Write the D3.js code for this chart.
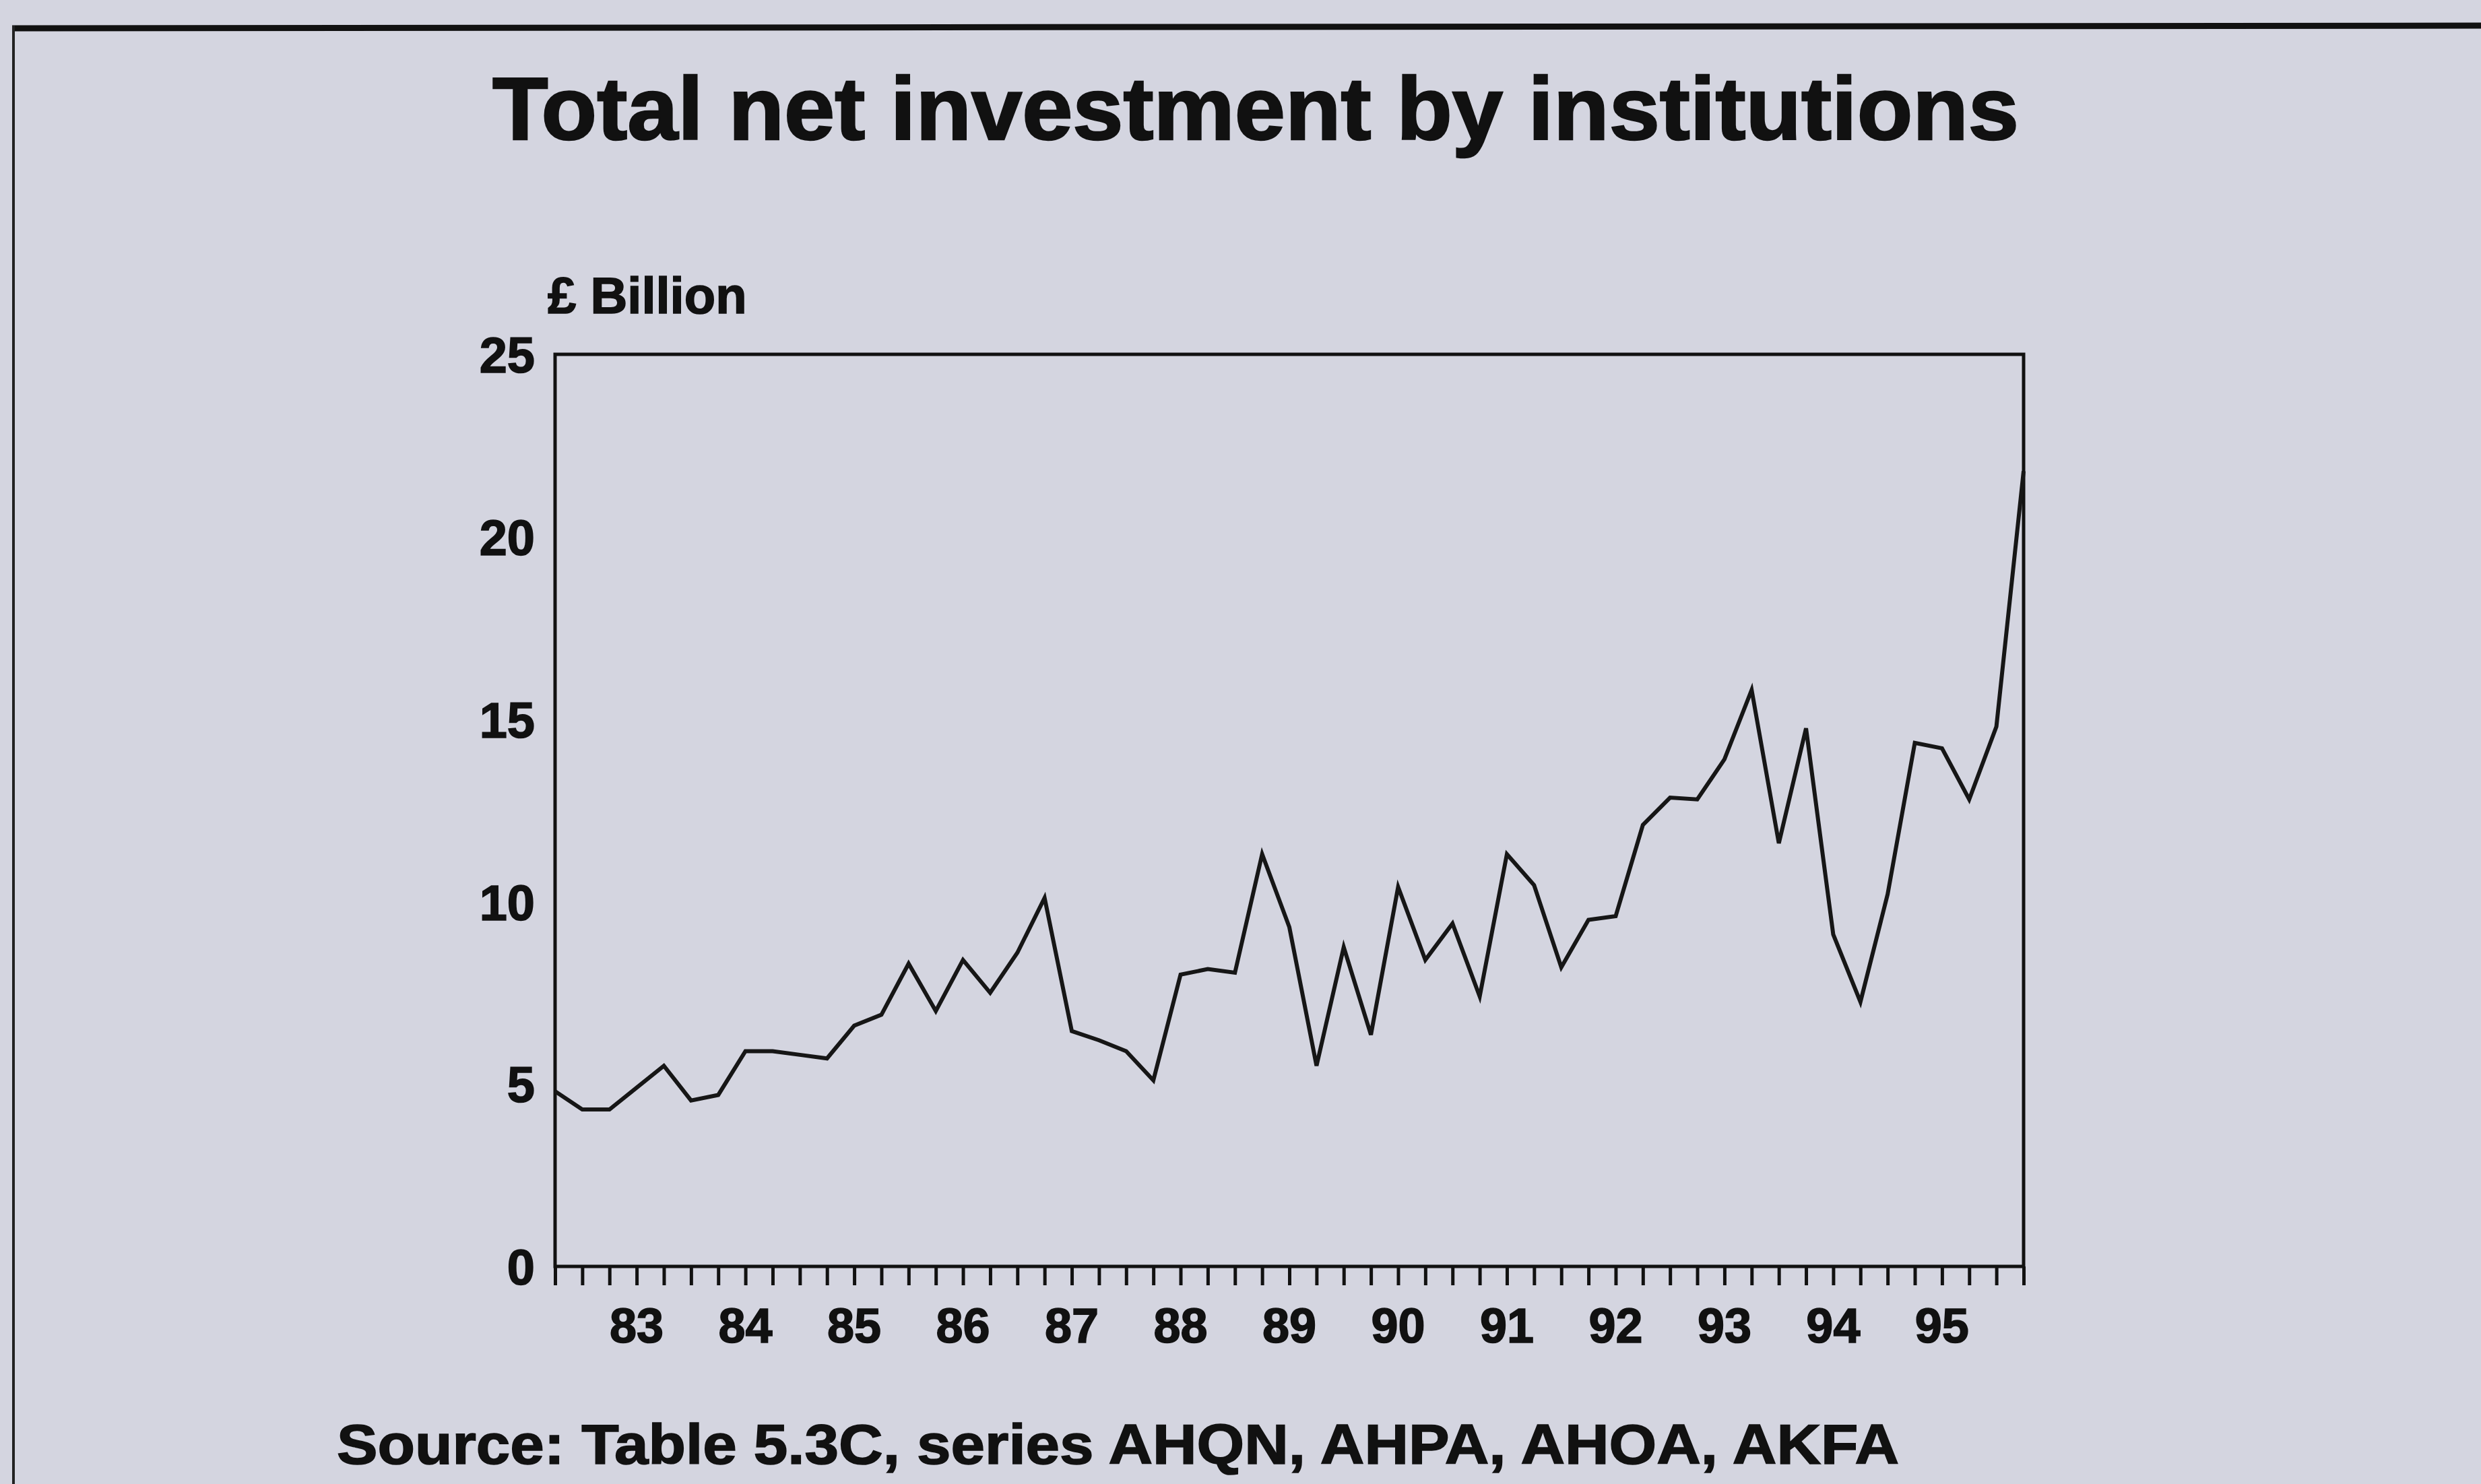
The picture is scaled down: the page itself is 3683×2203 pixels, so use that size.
<!DOCTYPE html>
<html>
<head>
<meta charset="utf-8">
<script src="https://cdn.jsdelivr.net/npm/d3@7"></script>
<style>
  html, body { margin: 0; padding: 0; background: #d4d5e0; }
  svg { display: block; }
  text { font-family: "Liberation Sans", Arial, Helvetica, sans-serif; font-weight: bold; fill: #111; stroke: #111; stroke-width: 1.6px; }
</style>
</head>
<body>
<script>
// ---- Data (quarterly, £ billion) ----
const quarters = [
  "1982 Q4",
  "1983 Q1","1983 Q2","1983 Q3","1983 Q4",
  "1984 Q1","1984 Q2","1984 Q3","1984 Q4",
  "1985 Q1","1985 Q2","1985 Q3","1985 Q4",
  "1986 Q1","1986 Q2","1986 Q3","1986 Q4",
  "1987 Q1","1987 Q2","1987 Q3","1987 Q4",
  "1988 Q1","1988 Q2","1988 Q3","1988 Q4",
  "1989 Q1","1989 Q2","1989 Q3","1989 Q4",
  "1990 Q1","1990 Q2","1990 Q3","1990 Q4",
  "1991 Q1","1991 Q2","1991 Q3","1991 Q4",
  "1992 Q1","1992 Q2","1992 Q3","1992 Q4",
  "1993 Q1","1993 Q2","1993 Q3","1993 Q4",
  "1994 Q1","1994 Q2","1994 Q3","1994 Q4",
  "1995 Q1","1995 Q2","1995 Q3","1995 Q4",
  "1996 Q1","1996 Q2"
];
const investment = [
  4.8,
  4.3, 4.3, 4.9, 5.5,
  4.55, 4.7, 5.9, 5.9,
  5.8, 5.7, 6.6, 6.9,
  8.3, 7.0, 8.4, 7.5,
  8.6, 10.1, 6.45, 6.2,
  5.9, 5.1, 8.0, 8.15,
  8.05, 11.3, 9.3, 5.5,
  8.75, 6.35, 10.4, 8.4,
  9.4, 7.4, 11.3, 10.45,
  8.2, 9.5, 9.6, 12.1,
  12.85, 12.8, 13.9, 15.8,
  11.6, 14.75, 9.1, 7.25,
  10.2, 14.35, 14.2, 12.8,
  14.8, 21.8
];
const yearLabels = ["83","84","85","86","87","88","89","90","91","92","93","94","95"];
const yTickValues = [0, 5, 10, 15, 20, 25];

const titleText = "Total net investment by institutions";
const unitText = "£ Billion";
const sourceText = "Source: Table 5.3C, series AHQN, AHPA, AHOA, AKFA";

// ---- Layout ----
const W = 3683, H = 2203;
const plot = { left: 824, right: 3004, top: 526, bottom: 1880 };

const svg = d3.select("body").append("svg")
  .attr("width", W).attr("height", H);

svg.append("rect").attr("width", W).attr("height", H).attr("fill", "#d4d5e0");

// page frame lines
svg.append("line").attr("x1", 18).attr("x2", W).attr("y1", 42).attr("y2", 38)
  .attr("stroke", "#111").attr("stroke-width", 9);
svg.append("line").attr("x1", 20).attr("x2", 20).attr("y1", 38).attr("y2", H)
  .attr("stroke", "#222").attr("stroke-width", 4);

const x = d3.scalePoint().domain(quarters).range([plot.left, plot.right]);
const y = d3.scaleLinear().domain([0, 25]).range([plot.bottom, plot.top]);

// x axis ticks (every quarter)
const xAxis = svg.append("g")
  .attr("transform", `translate(0,${plot.bottom})`)
  .call(d3.axisBottom(x).tickSize(28).tickFormat(""));
xAxis.select(".domain").remove();
xAxis.selectAll(".tick line").attr("stroke", "#111").attr("stroke-width", 5);

// year labels centred in each year
svg.append("g").selectAll("text")
  .data(yearLabels)
  .join("text")
  .attr("x", d => x("19" + d + " Q3"))
  .attr("y", 1993)
  .attr("text-anchor", "middle")
  .attr("font-size", 72)
  .text(d => d);

// y axis labels
const yAxis = svg.append("g")
  .attr("transform", `translate(${plot.left},0)`)
  .call(d3.axisLeft(y).tickValues(yTickValues).tickSize(0).tickPadding(30).tickFormat(d3.format("d")));
yAxis.select(".domain").remove();
yAxis.selectAll(".tick text")
  .attr("font-size", 74)
  .attr("font-family", "'Liberation Sans', Arial, sans-serif")
  .attr("font-weight", "bold")
  .attr("fill", "#111")
  .attr("dy", "0.36em");

// plot frame
svg.append("rect")
  .attr("x", plot.left).attr("y", plot.top)
  .attr("width", plot.right - plot.left).attr("height", plot.bottom - plot.top)
  .attr("fill", "none").attr("stroke", "#111").attr("stroke-width", 5);

// data line
const line = d3.line()
  .x((d, i) => x(quarters[i]))
  .y(d => y(d));
svg.append("path")
  .datum(investment)
  .attr("d", line)
  .attr("fill", "none")
  .attr("stroke", "#161616")
  .attr("stroke-width", 6)
  .attr("stroke-linejoin", "miter");

// unit label
svg.append("text")
  .attr("x", 813).attr("y", 465)
  .attr("font-size", 76)
  .text(unitText);

// title
svg.append("text")
  .attr("x", 731).attr("y", 207)
  .attr("font-size", 132)
  .attr("textLength", 2266).attr("lengthAdjust", "spacingAndGlyphs")
  .style("stroke-width", "2.5px")
  .text(titleText);

// source
svg.append("text")
  .attr("x", 500).attr("y", 2173)
  .attr("font-size", 84)
  .attr("textLength", 2319).attr("lengthAdjust", "spacingAndGlyphs")
  .text(sourceText);
</script>
</body>
</html>
